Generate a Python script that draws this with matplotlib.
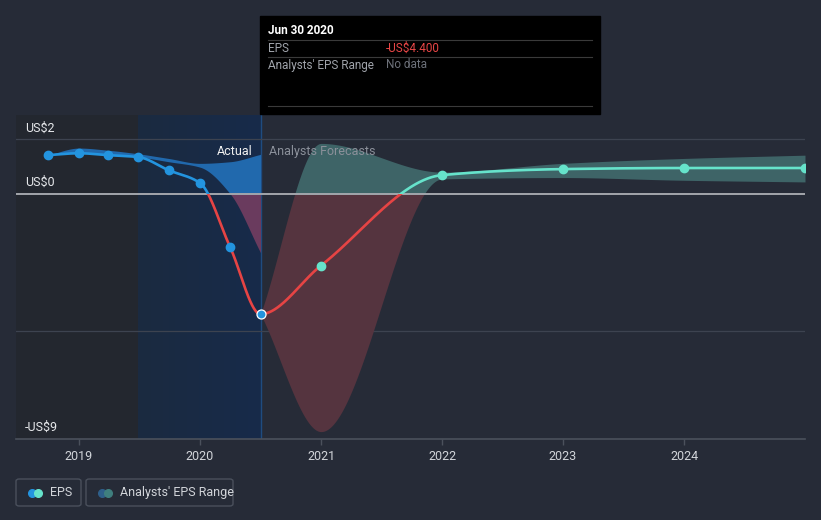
import numpy as np
import matplotlib
matplotlib.use('Agg')
from matplotlib import pyplot as plt
from matplotlib.patches import Rectangle, FancyBboxPatch
from matplotlib import transforms

plt.rcParams['font.family'] = ['Roboto', 'DejaVu Sans']

# actual EPS (trailing), quarterly
actual_x = [2018.74, 2019.0, 2019.24, 2019.49, 2019.74, 2020.0, 2020.25, 2020.5]
actual_eps = [1.42, 1.49, 1.42, 1.35, 0.87, 0.40, -1.96, -4.40]
# past analyst estimate range
past_hi = [1.42, 1.68, 1.60, 1.47, 1.30, 1.12, 1.18, 1.45]
past_lo = [1.42, 1.49, 1.42, 1.35, 1.18, 0.98, 0.00, -2.15]

# forecast EPS
fc_x = [2020.5, 2021.0, 2022.0, 2023.0, 2024.0, 2025.0]
fc_eps = [-4.40, -2.62, 0.69, 0.91, 0.95, 0.95]
fc_hi = [-4.40, 1.85, 0.80, 1.12, 1.30, 1.42]
fc_lo = [-4.40, -8.70, 0.55, 0.60, 0.50, 0.44]

years = [2019, 2020, 2021, 2022, 2023, 2024]
y_labels = [(2, 'US$2'), (0, 'US$0'), (-9, '-US$9')]

BG = '#262B37'
BLUE = '#2394DF'
RED = '#E64444'
TEAL = '#66E3CB'


def smooth(x, y, n=600):
    # monotone cubic (Fritsch-Carlson) just to draw curves
    x = np.asarray(x, float)
    y = np.asarray(y, float)
    h = np.diff(x)
    d = np.diff(y) / h
    m = np.zeros(len(x))
    m[0], m[-1] = d[0], d[-1]
    for k in range(1, len(x) - 1):
        if d[k - 1] * d[k] <= 0:
            m[k] = 0
        else:
            w1 = 2 * h[k] + h[k - 1]
            w2 = h[k] + 2 * h[k - 1]
            m[k] = (w1 + w2) / (w1 / d[k - 1] + w2 / d[k])
    xs = np.linspace(x[0], x[-1], n)
    i = np.clip(np.searchsorted(x, xs) - 1, 0, len(x) - 2)
    t = (xs - x[i]) / h[i]
    h00 = 2 * t**3 - 3 * t**2 + 1
    h10 = t**3 - 2 * t**2 + t
    h01 = -2 * t**3 + 3 * t**2
    h11 = t**3 - t**2
    ys = h00 * y[i] + h10 * h[i] * m[i] + h01 * y[i + 1] + h11 * h[i] * m[i + 1]
    return xs, ys


fig = plt.figure(figsize=(8.21, 5.2), dpi=100, facecolor=BG)
ax = fig.add_axes([16 / 821, (520 - 439) / 520, 789 / 821, (439 - 115) / 520])
ax.set_facecolor(BG)
x0, x1 = 2018.479, 2025.0
y0, y1 = -8.97, 2.89
ax.set_xlim(x0, x1)
ax.set_ylim(y0, y1)

# background regions
ax.axvspan(x0, 2019.49, color='#23272F', zorder=0, lw=0)
grad = np.linspace(0, 1, 100).reshape(1, -1)
cmap = matplotlib.colors.LinearSegmentedColormap.from_list('g', ['#1B2A40', '#172B4A'])
ax.imshow(grad, extent=[2019.49, 2020.5, y0, y1], aspect='auto', cmap=cmap, zorder=0.5)
ax.axvline(2020.5, color='#1F4C80', lw=1, zorder=1)

# grid
for g in [2, -5]:
    ax.axhline(g, color='#3D4350', lw=0.9, zorder=1)
ax.axhline(0, color='#A3A6AC', lw=1.4, zorder=3)


def band(x, lo, hi, c_pos, c_neg):
    xs, ls = smooth(x, lo)
    _, hs = smooth(x, hi)
    ax.fill_between(xs, np.maximum(ls, 0), np.maximum(hs, 0), color=c_pos, lw=0, zorder=2)
    ax.fill_between(xs, np.minimum(ls, 0), np.minimum(hs, 0), color=c_neg, lw=0, zorder=2)


band(actual_x, past_lo, past_hi, '#2169AD', '#6A3B5E')
band(fc_x, fc_lo, fc_hi, '#3E6467', '#55343F')

# one continuous curve through actual + forecast points, coloured by period and sign
all_x = actual_x + fc_x[1:]
all_y = actual_eps + fc_eps[1:]
xs, ys = smooth(all_x, all_y, n=1500)
split = 2020.5
parts = [
    (Rectangle((x0, 0), split - x0, 20, transform=ax.transData), BLUE),
    (Rectangle((x0, -20), x1 - x0, 20, transform=ax.transData), RED),
    (Rectangle((split, 0), x1 - split, 20, transform=ax.transData), TEAL),
]
for rect, c in parts:
    ln, = ax.plot(xs, ys, color=c, lw=1.9, zorder=4, solid_capstyle='round')
    ln.set_clip_path(rect)

ax.plot(actual_x[:-1], actual_eps[:-1], 'o', color=BLUE, ms=6, zorder=5)
ax.plot(fc_x[1:], fc_eps[1:], 'o', color=TEAL, ms=6, zorder=5)
ax.plot(actual_x[-1], actual_eps[-1], 'o', color=BLUE, ms=6.5, mec='white', mew=0.9, zorder=6)

# axes styling
for s in ['top', 'right', 'left']:
    ax.spines[s].set_visible(False)
ax.spines['bottom'].set_color('#4B515C')
ax.spines['bottom'].set_linewidth(1.2)
ax.set_yticks([])
ax.set_xticks(years)
ax.set_xticklabels([str(y) for y in years])
ax.tick_params(axis='x', colors='#4B515C', length=4, width=1, pad=4, labelsize=9,
               labelcolor='#D2D5DA')

lab_tr = transforms.blended_transform_factory(ax.transAxes, ax.transData)
for v, t in y_labels:
    tr = transforms.offset_copy(lab_tr, fig=fig, x=0, y=5 if v != -9 else 6, units='dots')
    ax.text(9 / 789, v, t, transform=tr, color='#E6E8EB', fontsize=9, va='bottom', ha='left')

tr_l = transforms.offset_copy(ax.transData, fig=fig, x=-8, y=0, units='dots')
tr_r = transforms.offset_copy(ax.transData, fig=fig, x=8, y=0, units='dots')
ax.text(2020.5, 1.57, 'Actual', transform=tr_l, ha='right', va='center', color='#F0F0F0', fontsize=9)
ax.text(2020.5, 1.57, 'Analysts Forecasts', transform=tr_r, ha='left', va='center',
        color='#8B909A', fontsize=9)


# tooltip
def fx(px):
    return px / 821


def fy(py):
    return 1 - py / 520


fig.patches.append(Rectangle((fx(260), fy(114)), fx(600) - fx(260), fy(16) - fy(114),
                             transform=fig.transFigure, color='black', zorder=10))
fig.text(fx(268), fy(31), 'Jun 30 2020', color='white', fontsize=8.5, fontweight='bold',
         va='center', zorder=11)
for py in [40, 57, 106]:
    fig.lines.append(plt.Line2D([fx(268), fx(592)], [fy(py), fy(py)], transform=fig.transFigure,
                                color='#3A3A3A', lw=0.8, zorder=11))
fig.text(fx(268), fy(48), 'EPS', color='#A0A4AB', fontsize=8.5, va='center', zorder=11)
fig.text(fx(386), fy(48), '-US$4.400', color='#E84646', fontsize=8.5, va='center', zorder=11)
fig.text(fx(268), fy(65), "Analysts' EPS Range", color='#A0A4AB', fontsize=8.5, va='center', zorder=11)
fig.text(fx(386), fy(65), 'No data', color='#6D717A', fontsize=8.5, va='center', zorder=11)

# legend
for (l, r) in [(16, 81), (86, 233)]:
    fig.patches.append(FancyBboxPatch((fx(l), fy(506)), fx(r) - fx(l), fy(479) - fy(506),
                                      boxstyle='round,pad=0,rounding_size=0.004',
                                      transform=fig.transFigure, fc='none', ec='#4A505C', lw=1))
legend_items = [(32, BLUE, TEAL, 50, 'EPS'), (102, '#2E5F8A', '#3F7F7E', 120, "Analysts' EPS Range")]
for cx, c1, c2, tx, txt in legend_items:
    ax.plot([fx(cx)], [fy(492.5)], 'o', color=c1, ms=5.5, transform=fig.transFigure, clip_on=False)
    ax.plot([fx(cx + 6)], [fy(492.5)], 'o', color=c2, ms=5.5, transform=fig.transFigure, clip_on=False)
    fig.text(fx(tx), fy(492.5), txt, color='#D2D5DA', fontsize=9, va='center')

fig.savefig('out.png', dpi=100, facecolor=BG)
